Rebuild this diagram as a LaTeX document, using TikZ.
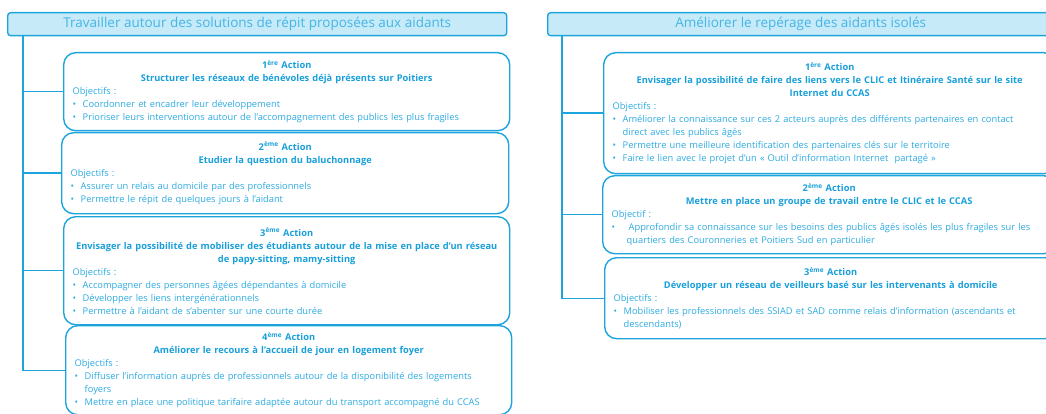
\documentclass[tikz,border=0pt]{standalone}
\usepackage{fontspec}
\setmainfont{Open Sans}
\usetikzlibrary{positioning}
\definecolor{frame}{HTML}{1DA4DD}
\definecolor{headfill}{HTML}{C6EAF8}
\definecolor{headtxt}{HTML}{45B5E5}
\definecolor{bodytxt}{HTML}{2CAAE1}
\definecolor{boldtxt}{HTML}{189FDA}
\newcommand{\acthd}[2]{{\centering\color{boldtxt}\bfseries #1\par #2\par}}
\newcommand{\itm}[1]{\hangindent=10pt\hangafter=1\makebox[10pt][l]{\textbullet}#1\par}
\newcommand{\itmw}[1]{\hangindent=15pt\hangafter=1\makebox[17pt][l]{\textbullet}#1\par}
\tikzset{theme/.style={draw=frame,fill=headfill,line width=1.4pt,rounded corners=3pt,minimum height=23pt,inner sep=0pt,font=\fontsize{13.5}{15}\selectfont,text=headtxt,anchor=north west},act/.style={draw=frame,line width=1.4pt,rounded corners=12pt,anchor=north west,align=left,inner xsep=9pt,inner ysep=0pt,text=bodytxt,font=\fontsize{9.3}{13}\selectfont},link/.style={draw=frame,line width=1.4pt}}
\begin{document}
\begin{tikzpicture}[x=1pt,y=-1pt]
\path[use as bounding box,clip] (0,0) rectangle (1046,414);
% left column
\node[theme,minimum width=499pt] (tL) at (7,12) {Travailler autour des solutions de répit proposées aux aidants};
\node[act,text width=428pt,minimum height=78pt] (aL1) at (63,52) {\acthd{1\textsuperscript{ère} Action}{Structurer les réseaux de bénévoles déjà présents sur Poitiers}Objectifs :\par\itm{Coordonner et encadrer leur développement}\itm{Prioriser leurs interventions autour de l'accompagnement des publics les plus fragiles}};
\node[act,text width=429pt,minimum height=81pt] (aL2) at (61,132) {\acthd{2\textsuperscript{ème} Action}{Etudier la question du baluchonnage}Objectifs :\par\itm{Assurer un relais au domicile par des professionnels}\itm{Permettre le répit de quelques jours à l'aidant}};
\node[act,text width=428pt,minimum height=108pt] (aL3) at (63,216) {\acthd{3\textsuperscript{ème} Action}{Envisager la possibilité de mobiliser des étudiants autour de la mise en place d'un réseau\\de papy-sitting, mamy-sitting}Objectifs :\par\itm{Accompagner des personnes âgées dépendantes à domicile}\itm{Développer les liens intergénérationnels}\itm{Permettre à l'aidant de s'abenter sur une courte durée}};
\node[act,text width=428pt,minimum height=89pt] (aL4) at (65,325) {\acthd{4\textsuperscript{ème} Action}{Améliorer le recours à l'accueil de jour en logement foyer}Objectifs :\par\itm{Diffuser l'information auprès de professionnels autour de la disponibilité des logements\newline foyers}\itm{Mettre en place une politique tarifaire adaptée autour du transport accompagné du CCAS}};
\coordinate (rootL) at (23,35);
\draw[link] (rootL) |- (aL1.west);\draw[link] (rootL) |- (aL2.west);\draw[link] (rootL) |- (aL3.west);\draw[link] (rootL) |- (aL4.west);
% right column
\node[theme,minimum width=506pt] (tR) at (547,12) {Améliorer le repérage des aidants isolés};
\node[act,text width=434pt,minimum height=121pt] (aR1) at (603,52) {\acthd{1\textsuperscript{ère} Action}{Envisager la possibilité de faire des liens vers le CLIC et Itinéraire Santé sur le site\\Internet du CCAS}Objectifs :\par\itm{Améliorer la connaissance sur ces 2 acteurs auprès des différents partenaires en contact\newline direct avec les publics âgés}\itm{Permettre une meilleure identification des partenaires clés sur le territoire}\itm{Faire le lien avec le projet d'un « Outil d'information Internet~ partagé »}};
\node[act,text width=435pt,minimum height=78pt] (aR2) at (602,175) {\acthd{2\textsuperscript{ème} Action}{Mettre en place un groupe de travail entre le CLIC et le CCAS}Objectif :\par\itmw{Approfondir sa connaissance sur les besoins des publics âgés isolés les plus fragiles sur les\newline quartiers des Couronneries et Poitiers Sud en particulier}};
\node[act,text width=434pt,minimum height=81pt] (aR3) at (604,257) {\acthd{3\textsuperscript{ème} Action}{Développer un réseau de veilleurs basé sur les intervenants à domicile}Objectifs :\par\itm{Mobiliser les professionnels des SSIAD et SAD comme relais d'information (ascendants et\newline descendants)}};
\coordinate (rootR) at (562,35);
\draw[link] (rootR) |- (aR1.west);\draw[link] (rootR) |- (aR2.west);\draw[link] (rootR) |- (aR3.west);
\end{tikzpicture}
\end{document}
